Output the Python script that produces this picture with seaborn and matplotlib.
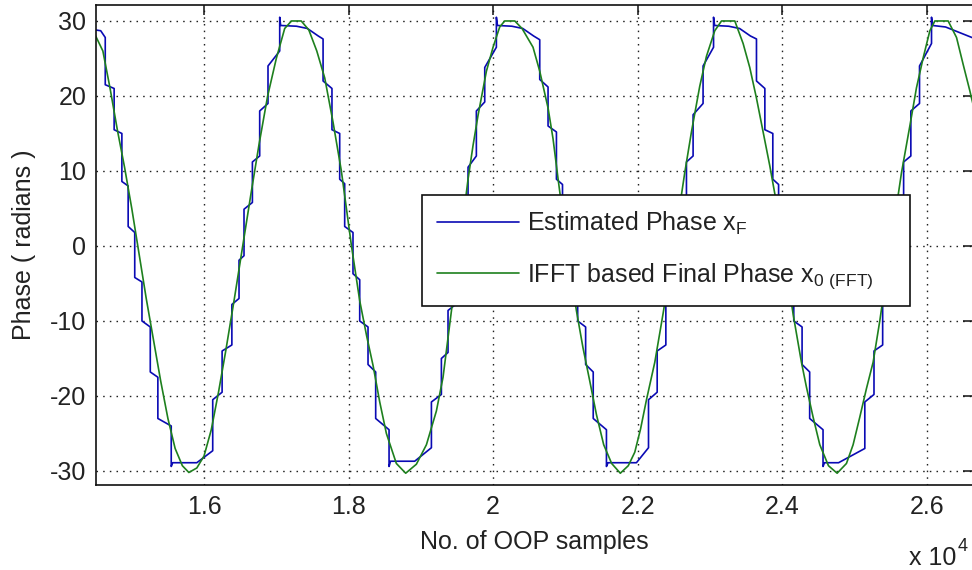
import matplotlib
matplotlib.use("Agg")
import matplotlib.pyplot as plt
import pandas as pd
import seaborn as sns

# Stepwise phase estimate (sample index, phase in radians)
est_samples = [
    14500, 14570, 14633, 14633, 14756, 14756, 14863, 14863, 14950, 14950,
    15041, 15041, 15141, 15141, 15256, 15256, 15361, 15361, 15546, 15546, 15566,
    15900, 16120, 16120, 16250, 16250, 16385, 16385, 16484, 16484, 16553,
    16553, 16669, 16669, 16770, 16770, 16885, 16885, 17047, 17047, 17060, 17280,
    17430, 17580, 17647, 17647, 17770, 17770, 17877, 17877, 17946, 17946,
    18061, 18061, 18154, 18154, 18269, 18269, 18375, 18375, 18560, 18560, 18580,
    18915, 19146, 19146, 19284, 19284, 19376, 19376, 19480, 19480, 19560,
    19560, 19653, 19653, 19768, 19768, 19884, 19884, 20045, 20045, 20060, 20260,
    20410, 20560, 20645, 20645, 20760, 20760, 20876, 20876, 20960, 20960,
    21070, 21070, 21170, 21170, 21280, 21280, 21385, 21385, 21568, 21568, 21590,
    21983, 22150, 22150, 22270, 22270, 22390, 22390, 22490, 22490, 22570,
    22570, 22675, 22675, 22767, 22767, 22905, 22905, 23050, 23050, 23065, 23260,
    23410, 23560, 23644, 23644, 23760, 23760, 23870, 23870, 23950, 23950,
    24060, 24060, 24160, 24160, 24275, 24275, 24380, 24380, 24565, 24565, 24585,
    24780, 25143, 25143, 25270, 25270, 25390, 25390, 25490, 25490, 25570,
    25570, 25680, 25680, 25780, 25780, 25900, 25900, 26066, 26066, 26080, 26260,
    26650,
]
est_phase = [
    28.8, 28.7, 27.8, 21.5, 21.0, 15.5, 15.0, 8.6, 8.0, 2.6,
    1.8, -4.2, -4.8, -10.0, -10.8, -16.8, -17.5, -23.0, -24.0, -29.4, -28.9,
    -28.9, -27.3, -20.5, -19.5, -14.0, -13.2, -7.8, -7.0, -1.9, -1.3,
    4.9, 5.8, 11.2, 12.0, 18.0, 19.0, 24.0, 26.0, 30.5, 29.4, 29.3,
    29.0, 28.0, 27.6, 22.0, 21.0, 15.5, 15.0, 8.9, 8.3, 2.6,
    1.8, -3.7, -4.5, -10.0, -10.8, -15.8, -16.8, -23.0, -24.5, -29.4, -28.7,
    -28.7, -26.9, -20.8, -19.8, -15.0, -14.2, -8.6, -7.8, -2.5, -1.8,
    4.5, 5.5, 10.5, 12.0, 18.0, 19.2, 23.8, 26.5, 30.5, 29.4, 29.3,
    29.0, 28.0, 27.5, 22.2, 21.2, 16.0, 15.2, 8.9, 8.2, 2.6,
    1.8, -3.7, -4.5, -10.0, -10.8, -15.8, -16.8, -23.0, -24.5, -29.4, -28.9,
    -28.9, -26.9, -20.5, -19.5, -14.0, -13.2, -7.8, -7.0, -1.9, -1.3,
    4.9, 5.8, 11.2, 12.0, 17.5, 19.0, 24.0, 26.5, 30.5, 29.4, 29.3,
    29.0, 28.0, 27.6, 22.0, 21.0, 15.5, 15.0, 8.9, 8.2, 2.6,
    1.8, -3.7, -4.5, -10.0, -10.8, -15.8, -16.8, -23.0, -24.5, -29.4, -28.9,
    -28.9, -27.0, -20.8, -19.8, -14.0, -13.2, -7.8, -7.0, -1.9, -1.3,
    4.9, 5.8, 11.2, 12.0, 18.0, 19.0, 24.0, 27.0, 30.5, 29.4, 29.2,
    27.7,
]

# IFFT-based final phase (sample index, phase in radians)
fft_samples = [
    14500, 14600, 14700, 14800, 14900, 15000, 15100, 15200, 15300, 15400,
    15500, 15600, 15700, 15790,
    15900, 16000, 16100, 16200, 16300, 16420, 16535, 16650, 16760, 16880,
    17000, 17116, 17210, 17345,
    17450, 17560, 17670, 17785, 17900, 18040, 18154, 18250, 18340, 18431,
    18523, 18661, 18790,
    18938, 19077, 19215, 19307, 19400, 19520, 19600, 19653, 19722, 19791,
    19907, 19999, 20091, 20160, 20300,
    20400, 20552, 20645, 20760, 20829, 20898, 21020, 21152, 21244, 21337,
    21430, 21530, 21640, 21760,
    21870, 21960, 22040, 22122, 22237, 22352, 22500, 22652, 22744, 22859,
    22952, 23067, 23160, 23344,
    23459, 23551, 23644, 23736, 23828, 23897, 24020, 24151, 24266, 24335,
    24427, 24520, 24640, 24760,
    24889, 24981, 25074, 25166, 25258, 25350, 25500, 25651, 25766, 25858,
    25951, 26043, 26112, 26296, 26412, 26504, 26596, 26650,
]
fft_phase = [
    28.0, 26.0, 21.0, 15.5, 10.5, 5.0, -1.0, -7.0, -12.5, -18.0,
    -23.0, -27.0, -29.3, -30.2,
    -29.6, -28.0, -24.5, -19.5, -14.0, -7.0, 0.0, 7.0, 13.5, 20.0,
    25.0, 29.0, 30.0, 30.0,
    28.8, 26.0, 22.4, 16.5, 10.0, 0.0, -7.3, -12.0, -16.0, -20.8,
    -25.0, -29.0, -30.3,
    -29.1, -26.5, -22.0, -17.5, -10.4, -1.3, 4.8, 8.9, 13.4, 17.4,
    23.3, 26.5, 29.2, 30.0, 30.0,
    29.0, 26.5, 23.3, 18.4, 14.3, 9.0, 0.0, -8.6, -13.6, -18.0,
    -22.5, -26.5, -29.0, -30.3,
    -29.3, -27.5, -24.4, -20.5, -15.5, -9.0, 0.0, 9.8, 15.2, 21.3,
    25.3, 28.7, 30.0, 30.0,
    27.0, 23.8, 19.7, 15.2, 10.7, 7.0, -0.5, -9.1, -15.5, -18.8,
    -22.8, -26.5, -29.3, -30.3,
    -29.0, -26.5, -22.8, -19.0, -15.5, -10.0, 0.0, 9.8, 16.0, 21.1,
    25.1, 28.7, 30.0, 30.0, 27.8, 24.2, 20.7, 18.5,
]

x_ticks = [16000, 18000, 20000, 22000, 24000, 26000]
x_tick_labels = ["1.6", "1.8", "2", "2.2", "2.4", "2.6"]
y_ticks = [-30, -20, -10, 0, 10, 20, 30]

series_labels = [
    r"Estimated Phase x$_{F}$",
    r"IFFT based Final Phase x$_{0\ (FFT)}$",
]

BLUE = "#0a0ab4"
GREEN = "#1e801e"
TEXT = "#222222"

sns.set_style("white")
plt.rcParams["font.family"] = ["Liberation Sans", "DejaVu Sans"]
plt.rcParams["mathtext.default"] = "regular"
plt.rcParams["axes.unicode_minus"] = False

fig = plt.figure(figsize=(9.72, 5.70), dpi=100)
W, H = 972.0, 570.0
ax = fig.add_axes([96 / W, 1 - 485 / H, 877 / W, 480 / H])

est_df = pd.DataFrame({"sample": est_samples, "phase": est_phase})
fft_df = pd.DataFrame({"sample": fft_samples, "phase": fft_phase})

sns.lineplot(data=est_df, x="sample", y="phase", sort=False, estimator=None,
             color=BLUE, linewidth=1.2, label=series_labels[0], ax=ax)
sns.lineplot(data=fft_df, x="sample", y="phase", sort=False, estimator=None,
             color=GREEN, linewidth=1.2, label=series_labels[1], ax=ax)

ax.set_xlim(14505, 26640)
ax.set_ylim(-31.87, 32.13)
ax.set_xticks(x_ticks)
ax.set_xticklabels(x_tick_labels)
ax.set_yticks(y_ticks)

ax.set_axisbelow(True)
ax.grid(True, color="#202020", linestyle=(0, (1.1, 3.7)), linewidth=1.0)

for side in ["left", "bottom", "top", "right"]:
    ax.spines[side].set_visible(True)
    ax.spines[side].set_color("#111111")
    ax.spines[side].set_linewidth(1.2)

ax.tick_params(axis="both", which="major", direction="in", length=7.2,
               width=1.1, color="#111111", top=True, right=True,
               labelsize=18, labelcolor=TEXT, pad=7)

ax.set_xlabel("No. of OOP samples", fontsize=18, color=TEXT)
ax.set_ylabel("Phase ( radians )", fontsize=18, color=TEXT)
ax.xaxis.set_label_coords(0.5, -0.094)
ax.yaxis.set_label_coords(-0.068, 0.5)

# legend box spans a fixed region inside the axes
leg_x0, leg_x1 = (421.7 - 96) / 877, (910 - 96) / 877
leg_top, leg_bot = (485 - 195) / 480, (485 - 304) / 480
leg = ax.legend(loc="upper left",
                bbox_to_anchor=(leg_x0, leg_bot, leg_x1 - leg_x0, leg_top - leg_bot),
                mode="expand", borderaxespad=0, fontsize=18, frameon=True,
                fancybox=False, framealpha=1.0, handlelength=3.3,
                handletextpad=0.3, borderpad=0.6, labelspacing=0.95)
leg.get_frame().set_edgecolor("#111111")
leg.get_frame().set_linewidth(1.2)
for t in leg.get_texts():
    t.set_color(TEXT)

# axis multiplier shown below the x axis
fig.text(909 / W, 1 - 565 / H, "x 10", fontsize=18, color=TEXT,
         ha="left", va="baseline")
fig.text(958 / W, 1 - 551 / H, "4", fontsize=13, color=TEXT,
         ha="left", va="baseline")

fig.savefig("out.png", dpi=100)
